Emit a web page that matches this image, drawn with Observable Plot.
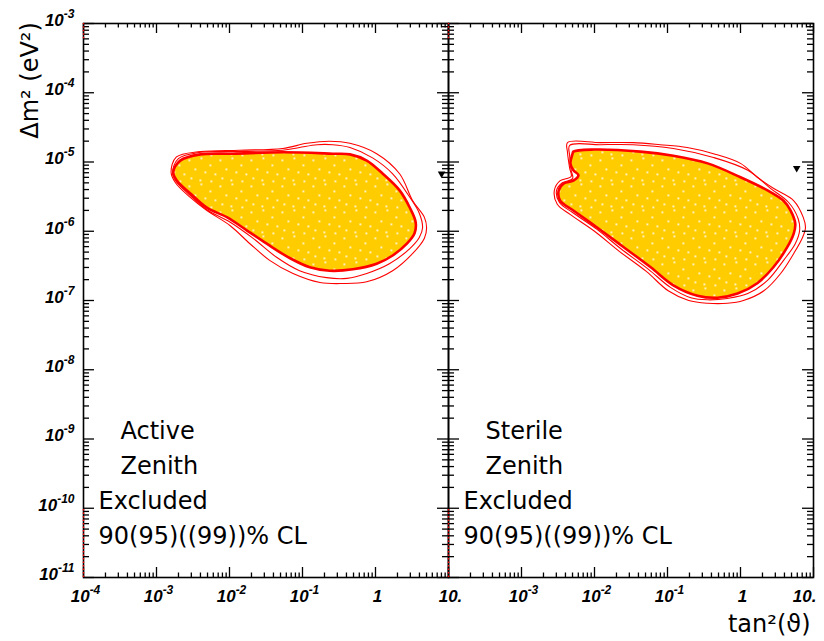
<!DOCTYPE html>
<html><head><meta charset="utf-8">
<script src="https://cdn.jsdelivr.net/npm/d3@7"></script>
<script src="https://cdn.jsdelivr.net/npm/@observablehq/plot@0.6"></script>
<style>
html,body{margin:0;padding:0;background:#fff;}
#chart{position:relative;width:824px;height:641px;overflow:hidden;background:#fff;}
#chart > svg{position:absolute;top:0;}
</style></head><body>
<svg width="0" height="0" style="position:absolute">
<defs>
<pattern id="dots" patternUnits="userSpaceOnUse" width="31" height="26">
<rect width="31" height="26" fill="#ffcc00"/>
<g fill="#ffffff">
<rect x="2" y="3" width="1.7" height="1.7"/>
<rect x="14" y="1" width="1.7" height="1.7"/>
<rect x="23" y="8" width="1.7" height="1.7"/>
<rect x="8" y="12" width="1.7" height="1.7"/>
<rect x="18" y="15" width="1.7" height="1.7"/>
<rect x="28" y="17" width="1.7" height="1.7"/>
<rect x="4" y="21" width="1.7" height="1.7"/>
<rect x="13" y="23" width="1.7" height="1.7"/>
<rect x="24" y="24" width="1.7" height="1.7"/>
</g>
</pattern>
</defs></svg>
<div id="chart"></div>
<script>
// ---- data (log10 tan^2(theta), log10 Δm^2) ----
const xMajorExp = [-4, -3, -2, -1, 0, 1];
const yMajorExp = [-11, -10, -9, -8, -7, -6, -5, -4, -3];
const xTickTextLeft = ["10⁻⁴", "10⁻³", "10⁻²", "10⁻¹", "1", "10."];
const xTickTextRight = ["", "10⁻³", "10⁻²", "10⁻¹", "1", "10."];
const yTickText = ["10⁻¹¹", "10⁻¹⁰", "10⁻⁹", "10⁻⁸", "10⁻⁷", "10⁻⁶", "10⁻⁵", "10⁻⁴", "10⁻³"];

const activeCL90 = [[-2.77,-5.15],[-2.675,-4.98],[-2.40,-4.89],[-1.95,-4.88],[-1.27,-4.86],[-0.585,-4.88],[-0.35,-4.89],[-0.12,-4.98],[0.10,-5.17],[0.33,-5.41],[0.47,-5.66],[0.55,-5.87],[0.535,-6.03],[0.43,-6.18],[0.235,-6.35],[0.016,-6.47],[-0.31,-6.55],[-0.63,-6.57],[-0.90,-6.52],[-1.17,-6.39],[-1.49,-6.18],[-1.76,-5.99],[-2.03,-5.80],[-2.31,-5.66],[-2.54,-5.45],[-2.72,-5.27]];
const activeCL95 = [[-2.78,-5.15],[-2.70,-4.95],[-2.40,-4.86],[-1.95,-4.85],[-1.27,-4.83],[-1.04,-4.79],[-0.80,-4.75],[-0.585,-4.75],[-0.35,-4.79],[-0.04,-4.94],[0.235,-5.17],[0.47,-5.51],[0.60,-5.74],[0.645,-5.95],[0.60,-6.09],[0.47,-6.25],[0.19,-6.47],[-0.12,-6.61],[-0.39,-6.68],[-0.67,-6.67],[-1.04,-6.57],[-1.35,-6.38],[-1.68,-6.10],[-1.99,-5.87],[-2.31,-5.69],[-2.54,-5.48],[-2.73,-5.28]];
const activeCL99 = [[-2.80,-5.15],[-2.73,-4.93],[-2.40,-4.85],[-1.86,-4.83],[-1.27,-4.805],[-0.94,-4.73],[-0.63,-4.70],[-0.35,-4.73],[0.016,-4.88],[0.33,-5.17],[0.51,-5.56],[0.67,-5.80],[0.70,-5.95],[0.67,-6.10],[0.51,-6.32],[0.235,-6.57],[-0.12,-6.73],[-0.45,-6.755],[-0.76,-6.74],[-1.13,-6.61],[-1.45,-6.42],[-1.72,-6.18],[-1.99,-5.92],[-2.31,-5.70],[-2.55,-5.50],[-2.74,-5.30]];

const sterileCL90 = [[-2.29,-4.85],[-2.01,-4.82],[-1.37,-4.85],[-0.92,-4.91],[-0.45,-5.02],[0.0,-5.22],[0.37,-5.41],[0.59,-5.56],[0.685,-5.70],[0.75,-5.89],[0.73,-6.03],[0.64,-6.23],[0.45,-6.52],[0.23,-6.75],[-0.04,-6.90],[-0.315,-6.96],[-0.59,-6.93],[-0.92,-6.78],[-1.23,-6.52],[-1.60,-6.23],[-1.96,-5.95],[-2.29,-5.70],[-2.47,-5.56],[-2.49,-5.41],[-2.42,-5.31],[-2.29,-5.27],[-2.22,-5.19],[-2.29,-5.12],[-2.33,-5.02],[-2.30,-4.88]];
const sterileCL95 = [[-2.32,-5.12],[-2.34,-4.91],[-2.34,-4.76],[-1.92,-4.75],[-1.47,-4.75],[-0.92,-4.805],[-0.37,-4.935],[0.10,-5.12],[0.41,-5.38],[0.66,-5.585],[0.79,-5.82],[0.81,-5.99],[0.75,-6.18],[0.59,-6.42],[0.37,-6.71],[0.10,-6.90],[-0.18,-6.97],[-0.45,-6.99],[-0.68,-6.96],[-0.96,-6.81],[-1.26,-6.55],[-1.63,-6.26],[-1.97,-5.97],[-2.30,-5.73],[-2.48,-5.585],[-2.52,-5.41],[-2.44,-5.30],[-2.30,-5.24]];
const sterileCL99 = [[-2.34,-5.09],[-2.37,-4.86],[-2.37,-4.72],[-1.92,-4.72],[-1.47,-4.72],[-1.10,-4.75],[-0.73,-4.79],[-0.37,-4.88],[0.0,-5.02],[0.23,-5.22],[0.45,-5.38],[0.73,-5.56],[0.86,-5.80],[0.89,-5.95],[0.85,-6.09],[0.73,-6.32],[0.55,-6.61],[0.32,-6.86],[0.04,-7.00],[-0.18,-7.04],[-0.45,-7.04],[-0.71,-7.00],[-0.99,-6.86],[-1.29,-6.58],[-1.66,-6.29],[-2.0,-6.00],[-2.33,-5.76],[-2.51,-5.61],[-2.55,-5.41],[-2.47,-5.27],[-2.32,-5.21]];

const activeMarker = [[0.905, -5.17]];
const sterileMarker = [[0.77, -5.09]];
const edgeRedSegments = [[-3.22, -3], [-11, -10]]; // along x = 10^-4

const activeText = ["Active", "Zenith", "Excluded", "90(95)((99))% CL"];
const sterileText = ["Sterile", "Zenith", "Excluded", "90(95)((99))% CL"];
const yTitle = "Δm² (eV²)";
const xTitle = "tan²(ϑ)";

// ---- layout ----
const H = 641, mT = 23, mB = 64;
const plotH = H - mT - mB;
const RED = "#ff0000";
const pow = e => 10 ** e;
const minors = (lo, hi) => { const o = []; for (let e = lo; e < hi; e++) for (let k = 2; k <= 9; k++) o.push(k * 10 ** e); return o; };
const xMaj = xMajorExp.map(pow), yMaj = yMajorExp.map(pow);
const xMin = minors(-4, 1), yMin = minors(-11, -3);
const tickFont = {fontFamily: "Liberation Sans", fontWeight: "bold", fontStyle: "italic", fontSize: 17, fill: "#000", lineAnchor: "middle"};
const bodyFont = {fontFamily: "DejaVu Sans", fontSize: 24, fill: "#000", lineAnchor: "middle"};

function panel({left, width, marginLeft, marginRight, cl90, cl95, cl99, marker, lines, xText, lastLabelEnd, showY, showXTitle}) {
  const plotW = width - marginLeft - marginRight;
  const P = {x: d => pow(d[0]), y: d => pow(d[1])};
  const curve = "catmull-rom-closed";
  const xLab = xMaj.map((v, i) => ({v, t: xText[i]})).filter(d => d.t);
  const xLabMid = lastLabelEnd ? xLab.slice(0, -1) : xLab;
  const xLabEnd = lastLabelEnd ? xLab.slice(-1) : [];
  const marks = [
    Plot.line(cl90, {...P, curve, fill: "url(#dots)", stroke: "none"}),
    Plot.line(cl99, {...P, curve, stroke: RED, strokeWidth: 1.1}),
    Plot.line(cl95, {...P, curve, stroke: RED, strokeWidth: 1.1}),
    Plot.line(cl90, {...P, curve, stroke: RED, strokeWidth: 2.6}),
    Plot.dot(marker, {...P, symbol: "triangle", rotate: 180, r: 2.8, fill: "#000", stroke: "none"}),
    // bottom / top ticks
    Plot.ruleX(xMaj, {x: d => d, insetTop: plotH - 10, stroke: "#000", strokeWidth: 1.3}),
    Plot.ruleX(xMin, {x: d => d, insetTop: plotH - 4.5, stroke: "#000", strokeWidth: 1.3}),
    Plot.ruleX(xMaj, {x: d => d, insetBottom: plotH - 10, stroke: "#000", strokeWidth: 1.3}),
    Plot.ruleX(xMin, {x: d => d, insetBottom: plotH - 4.5, stroke: "#000", strokeWidth: 1.3}),
    // left / right ticks
    Plot.ruleY(yMaj, {y: d => d, insetRight: plotW - 11, stroke: "#000", strokeWidth: 1.3}),
    Plot.ruleY(yMin, {y: d => d, insetRight: plotW - 6, stroke: "#000", strokeWidth: 1.3}),
    Plot.ruleY(yMaj, {y: d => d, insetLeft: plotW - 11, stroke: "#000", strokeWidth: 1.3}),
    Plot.ruleY(yMin, {y: d => d, insetLeft: plotW - 6, stroke: "#000", strokeWidth: 1.3}),
    Plot.frame({stroke: "#000", strokeWidth: 1.6}),
    Plot.ruleX(edgeRedSegments, {x: () => 1e-4, y1: d => pow(d[0]), y2: d => pow(d[1]), stroke: RED, strokeWidth: 1.4, strokeDasharray: "1.5,2"}),
    // x tick labels
    Plot.text(xLabMid, {x: d => d.v, text: d => d.t, frameAnchor: "bottom", textAnchor: "middle", dx: 2, dy: 19, ...tickFont}),
    Plot.text(xLabEnd, {x: d => d.v, text: d => d.t, frameAnchor: "bottom", textAnchor: "end", dx: 3, dy: 19, ...tickFont}),
    // annotations
    Plot.text([lines[0]], {text: d => d, frameAnchor: "bottom-left", textAnchor: "start", dx: 37, dy: -146, ...bodyFont}),
    Plot.text([lines[1]], {text: d => d, frameAnchor: "bottom-left", textAnchor: "start", dx: 37, dy: -111, ...bodyFont}),
    Plot.text([lines[2]], {text: d => d, frameAnchor: "bottom-left", textAnchor: "start", dx: 15, dy: -76, ...bodyFont}),
    Plot.text([lines[3]], {text: d => d, frameAnchor: "bottom-left", textAnchor: "start", dx: 15, dy: -41, ...bodyFont})
  ];
  if (showY) {
    marks.push(Plot.text(yMaj.map((v, i) => ({v, t: yTickText[i]})), {y: d => d.v, text: d => d.t, frameAnchor: "left", textAnchor: "end", dx: -9, dy: -3, ...tickFont}));
    marks.push(Plot.text([yTitle], {text: d => d, frameAnchor: "top-left", textAnchor: "middle", dx: -53, dy: 57, rotate: -90, ...bodyFont}));
  }
  if (showXTitle) {
    marks.push(Plot.text([xTitle], {text: d => d, frameAnchor: "bottom-right", textAnchor: "end", dx: -3, dy: 47, ...bodyFont}));
  }
  const svg = Plot.plot({
    width, height: H, marginLeft, marginRight, marginTop: mT, marginBottom: mB,
    x: {type: "log", domain: [1e-4, 10], axis: null},
    y: {type: "log", domain: [1e-11, 1e-3], axis: null},
    style: {background: "transparent", overflow: "visible"},
    marks
  });
  svg.style.left = left + "px";
  return svg;
}

const chart = document.getElementById("chart");
chart.appendChild(panel({left: 0, width: 459, marginLeft: 83, marginRight: 11, cl90: activeCL90, cl95: activeCL95, cl99: activeCL99, marker: activeMarker, lines: activeText, xText: xTickTextLeft, lastLabelEnd: false, showY: true, showXTitle: false}));
chart.appendChild(panel({left: 380, width: 444, marginLeft: 68, marginRight: 11, cl90: sterileCL90, cl95: sterileCL95, cl99: sterileCL99, marker: sterileMarker, lines: sterileText, xText: xTickTextRight, lastLabelEnd: true, showY: false, showXTitle: true}));

// render the exponent of tick labels as a raised, smaller tspan (still real text)
const SVGNS = "http://www.w3.org/2000/svg";
const supMap = {"⁻": "-", "⁰": "0", "¹": "1", "²": "2", "³": "3", "⁴": "4", "⁵": "5", "⁶": "6", "⁷": "7", "⁸": "8", "⁹": "9"};
chart.querySelectorAll("text").forEach(t => {
  const m = t.textContent.match(/^10([⁻⁰¹²³⁴⁵⁶⁷⁸⁹]+)$/);
  if (!m) return;
  const exp = [...m[1]].map(c => supMap[c]).join("");
  t.textContent = "";
  const base = document.createElementNS(SVGNS, "tspan");
  base.textContent = "10";
  const sup = document.createElementNS(SVGNS, "tspan");
  sup.textContent = exp;
  sup.setAttribute("font-size", "12");
  sup.setAttribute("dy", "-8");
  t.appendChild(base);
  t.appendChild(sup);
});
</script>
</body></html>
